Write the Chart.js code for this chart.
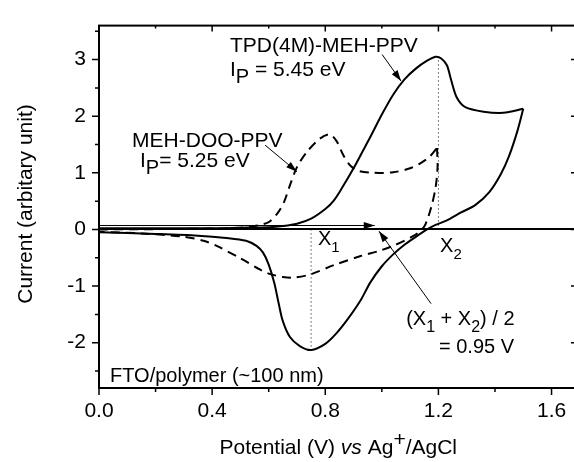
<!DOCTYPE html>
<html>
<head>
<meta charset="utf-8">
<script src="https://cdn.jsdelivr.net/npm/chart.js@4.4.1/dist/chart.umd.min.js"></script>
<style>
  html, body { margin: 0; padding: 0; background: #fff; overflow: hidden; }
  canvas { display: block; }
</style>
</head>
<body>
<canvas id="cv" width="580" height="462"></canvas>
<script>
// TPD(4M)-MEH-PPV (solid) - forward scan then reverse scan
const tpdFwdV = [0, 0.2, 0.4, 0.5, 0.6, 0.65, 0.7, 0.75, 0.8, 0.83, 0.86, 0.9, 0.93, 0.96, 1.0, 1.04, 1.08, 1.12, 1.16, 1.19, 1.21, 1.23, 1.245, 1.265, 1.295, 1.36, 1.43, 1.5];
const tpdFwdI = [0.02, 0.02, 0.02, 0.03, 0.04, 0.06, 0.1, 0.19, 0.36, 0.51, 0.74, 1.08, 1.36, 1.64, 2.03, 2.38, 2.65, 2.84, 2.98, 3.05, 3.02, 2.9, 2.64, 2.33, 2.16, 2.08, 2.06, 2.13];
const tpdRevV = [1.5, 1.48, 1.45, 1.42, 1.38, 1.33, 1.28, 1.23, 1.19, 1.16, 1.12, 1.08, 1.04, 1.0, 0.96, 0.925, 0.88, 0.84, 0.8, 0.75, 0.71, 0.675, 0.65, 0.635, 0.62, 0.6, 0.58, 0.557, 0.52, 0.45, 0.35, 0.2, 0];
const tpdRevI = [2.13, 1.75, 1.3, 0.97, 0.66, 0.43, 0.3, 0.16, 0.08, 0.0, -0.13, -0.27, -0.44, -0.65, -0.93, -1.25, -1.58, -1.83, -2.02, -2.13, -2.06, -1.9, -1.62, -1.3, -0.95, -0.62, -0.41, -0.29, -0.2, -0.15, -0.11, -0.08, -0.05];

// MEH-DOO-PPV (dashed)
const mehFwdV = [0, 0.3, 0.5, 0.56, 0.6, 0.63, 0.653, 0.675, 0.7, 0.735, 0.78, 0.815, 0.84, 0.865, 0.89, 0.92, 0.97, 1.04, 1.1, 1.14, 1.17, 1.195];
const mehFwdI = [0.0, 0.01, 0.03, 0.07, 0.13, 0.28, 0.47, 0.78, 1.1, 1.37, 1.6, 1.68, 1.56, 1.3, 1.12, 1.03, 1.0, 1.01, 1.08, 1.18, 1.29, 1.44];
const mehRevV = [1.195, 1.197, 1.19, 1.175, 1.155, 1.14, 1.11, 1.04, 0.99, 0.925, 0.83, 0.75, 0.69, 0.65, 0.6, 0.57, 0.5, 0.42, 0.37, 0.3, 0.15, 0];
const mehRevI = [1.44, 1.1, 0.74, 0.4, 0.1, -0.01, -0.12, -0.29, -0.38, -0.47, -0.63, -0.79, -0.85, -0.84, -0.78, -0.71, -0.51, -0.3, -0.2, -0.13, -0.07, -0.04];

const xTicks = [0, 0.4, 0.8, 1.2, 1.6];
const xMinor = [0.2, 0.6, 1.0, 1.4];
const yTicks = [-2, -1, 0, 1, 2, 3];
const yMinor = [-2.5, -1.5, -0.5, 0.5, 1.5, 2.5, 3.5];
const markX = [0.75, 1.2]; // X1 (cathodic peak), X2 (anodic peak)

const FONT = '"Liberation Sans", Arial, sans-serif';
const toPts = (xs, ys) => xs.map((v, i) => ({ x: v, y: ys[i] }));

function curve(xs, ys, dash) {
  return {
    data: toPts(xs, ys),
    showLine: true,
    borderColor: '#000',
    borderWidth: 2,
    borderDash: dash,
    pointRadius: 0,
    tension: 0.3,
    fill: false
  };
}

const x1Bottom = Math.min(...tpdRevI);
const x2Top = Math.max(...tpdFwdI);

function dotted(xv, y0, y1) {
  return {
    data: [{ x: xv, y: y0 }, { x: xv, y: y1 }],
    showLine: true,
    borderColor: '#000',
    borderWidth: 1,
    borderDash: [1, 3],
    pointRadius: 0,
    tension: 0
  };
}

// rich text: parts = [text, size, dy, italic]
function richWidth(ctx, parts) {
  let w = 0;
  parts.forEach(p => {
    ctx.font = (p[3] ? 'italic ' : '') + p[1] + 'px ' + FONT;
    w += ctx.measureText(p[0]).width;
  });
  return w;
}
function drawRich(ctx, parts, x, y) {
  ctx.textAlign = 'left';
  ctx.textBaseline = 'alphabetic';
  parts.forEach(p => {
    ctx.font = (p[3] ? 'italic ' : '') + p[1] + 'px ' + FONT;
    ctx.fillText(p[0], x, y + p[2]);
    x += ctx.measureText(p[0]).width;
  });
}
function arrow(ctx, xa, ya, xb, yb) {
  ctx.beginPath();
  ctx.moveTo(xa, ya);
  ctx.lineTo(xb, yb);
  ctx.stroke();
  const ang = Math.atan2(yb - ya, xb - xa);
  const L = 11, H = 3.5;
  ctx.beginPath();
  ctx.moveTo(xb, yb);
  ctx.lineTo(xb - L * Math.cos(ang) + H * Math.sin(ang), yb - L * Math.sin(ang) - H * Math.cos(ang));
  ctx.lineTo(xb - L * Math.cos(ang) - H * Math.sin(ang), yb - L * Math.sin(ang) + H * Math.cos(ang));
  ctx.closePath();
  ctx.fill();
}

const extras = {
  id: 'extras',
  afterDatasetsDraw(chart) {
    const { ctx, chartArea: a, scales: { x, y } } = chart;
    ctx.save();
    ctx.strokeStyle = '#000';
    ctx.fillStyle = '#000';

    // frame
    ctx.lineWidth = 2;
    ctx.strokeRect(a.left, a.top, a.right - a.left, a.bottom - a.top);

    // ticks: outward on left/bottom, inward on top/right
    ctx.lineWidth = 1.5;
    ctx.beginPath();
    const xt = (v, len) => {
      const px = x.getPixelForValue(v);
      ctx.moveTo(px, a.bottom); ctx.lineTo(px, a.bottom + len);
      ctx.moveTo(px, a.top); ctx.lineTo(px, a.top + len - 1);
    };
    const yt = (v, len) => {
      const py = y.getPixelForValue(v);
      ctx.moveTo(a.left, py); ctx.lineTo(a.left - len, py);
      ctx.moveTo(a.right, py); ctx.lineTo(a.right - len + 1, py);
    };
    xTicks.forEach(v => xt(v, 7));
    xMinor.forEach(v => xt(v, 4));
    yTicks.forEach(v => yt(v, 7));
    yMinor.forEach(v => yt(v, 4));
    ctx.stroke();

    // scan direction arrow
    ctx.lineWidth = 1;
    arrow(ctx, x.getPixelForValue(0), y.getPixelForValue(0.07), x.getPixelForValue(0.975), y.getPixelForValue(0.07));
    // pointers
    arrow(ctx, x.getPixelForValue(1.001), y.getPixelForValue(3.09), x.getPixelForValue(1.068), y.getPixelForValue(2.62));
    arrow(ctx, x.getPixelForValue(0.587), y.getPixelForValue(1.49), x.getPixelForValue(0.700), y.getPixelForValue(1.02));
    arrow(ctx, x.getPixelForValue(1.174), y.getPixelForValue(-1.31), x.getPixelForValue(0.99), y.getPixelForValue(-0.03));

    // labels
    const at = (vx, vy, parts) => drawRich(ctx, parts, x.getPixelForValue(vx), y.getPixelForValue(vy));
    at(0.463, 3.126, [['TPD(4M)-MEH-PPV', 21, 0]]);
    at(0.463, 2.718, [['I', 21, 0], ['P', 20, 7], [' = 5.45 eV', 21, 0]]);
    at(0.117, 1.462, [['MEH-DOO-PPV', 21, 0]]);
    at(0.145, 1.105, [['I', 21, 0], ['P', 20, 7], ['= 5.25 eV', 21, 0]]);
    at(0.774, -0.27, [['X', 20, 0], ['1', 15, 7]]);
    at(1.206, -0.406, [['X', 20, 0], ['2', 15, 7]]);
    at(1.086, -1.679, [['(X', 20, 0], ['1', 16, 7], [' + X', 20, 0], ['2', 16, 7], [') / 2', 20, 0]]);
    at(1.202, -2.188, [['= 0.95 V', 20, 0]]);
    at(0.039, -2.698, [['FTO/polymer (~100 nm)', 20, 0]]);

    // x axis title
    const xt2 = [['Potential (V) ', 21, 0], ['vs', 21, 0, true], [' Ag', 21, 0], ['+', 21, -8], ['/AgCl', 21, 0]];
    const w = richWidth(ctx, xt2);
    drawRich(ctx, xt2, 457 - w, 454);

    // y axis title
    ctx.translate(32, 204);
    ctx.rotate(-Math.PI / 2);
    ctx.font = '21px ' + FONT;
    ctx.textAlign = 'center';
    ctx.fillText('Current (arbitary unit)', 0, 0);
    ctx.restore();
  }
};

const tickFont = { family: FONT, size: 21 };

new Chart(document.getElementById('cv'), {
  type: 'scatter',
  data: {
    datasets: [
      curve(tpdFwdV, tpdFwdI, []),
      curve(tpdRevV, tpdRevI, []),
      curve(mehFwdV, mehFwdI, [9, 6]),
      curve(mehRevV, mehRevI, [9, 6]),
      dotted(markX[0], 0, x1Bottom),
      dotted(markX[1], 0, x2Top)
    ]
  },
  options: {
    responsive: false,
    animation: false,
    layout: { padding: { top: 11, right: 3, left: 0, bottom: 0 } },
    plugins: { legend: { display: false }, tooltip: { enabled: false } },
    scales: {
      x: {
        type: 'linear', min: 0, max: 1.69,
        afterBuildTicks: s => { s.ticks = xTicks.map(v => ({ value: v })); },
        afterFit: s => { s.height = 74; },
        grid: { display: false, drawTicks: false },
        border: { display: false },
        ticks: { font: tickFont, color: '#000', padding: 11, maxRotation: 0, autoSkip: false, callback: v => v.toFixed(1) }
      },
      y: {
        type: 'linear', min: -2.8, max: 3.6,
        afterBuildTicks: s => { s.ticks = yTicks.map(v => ({ value: v })); },
        afterFit: s => { s.width = 99; },
        grid: {
          drawTicks: false,
          lineWidth: 2,
          color: c => (c.tick && c.tick.value === 0 ? '#000' : 'rgba(0,0,0,0)')
        },
        border: { display: false },
        ticks: { font: tickFont, color: '#000', padding: 13, callback: v => String(v) }
      }
    }
  },
  plugins: [extras]
});
</script>
</body>
</html>
